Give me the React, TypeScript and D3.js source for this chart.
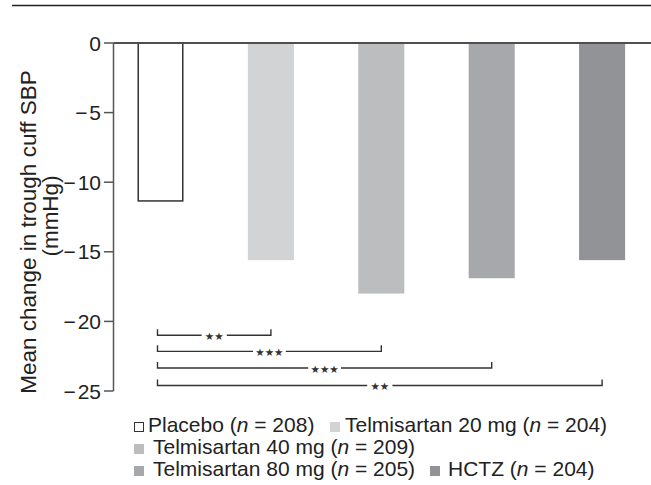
import React from 'react';
import * as d3 from 'd3';

const categories = ['Placebo', 'Telmisartan 20 mg', 'Telmisartan 40 mg', 'Telmisartan 80 mg', 'HCTZ'];
const values = [-11.4, -15.6, -18.0, -16.9, -15.6];
const sampleSizes = [208, 204, 209, 205, 204];
const barColors = ['#ffffff', '#d2d3d5', '#bcbdbf', '#a7a8ab', '#929396'];
const yTicks = [0, -5, -10, -15, -20, -25];
const comparisonTargets = [1, 2, 3, 4];
const comparisonLabels = ['**', '***', '***', '**'];
const comparisonLevels = [-21.0, -22.15, -23.35, -24.6];
const yTitle = ['Mean change in trough cuff SBP', '(mmHg)'];

const W = 651;
const H = 485;
const FONT = "'Liberation Sans', Arial, Helvetica, sans-serif";

export default function App() {
  const x = d3.scaleBand<string>().domain(categories).range([105.3, 657.3]).paddingInner(0.583).paddingOuter(0.2915);
  const y = d3.scaleLinear().domain([0, -25]).range([43, 391]);
  const cx = (i: number) => (x(categories[i]) as number) + x.bandwidth() / 2;
  const axisX = 113.5;

  // legend layout: rows of [index, squareX, textX]
  const legendRows: [number, number, number][][] = [
    [[0, 134, 148], [1, 330, 345]],
    [[2, 134, 153]],
    [[3, 134, 153], [4, 430, 448]],
  ];
  const legendY = [432, 454, 476];

  return (
    <svg width={W} height={H} style={{ position: 'absolute', left: 0, top: 0 }} fontFamily={FONT}>
      <rect width={W} height={H} fill="#fff" />
      <line x1={12} x2={W} y1={5.5} y2={5.5} stroke="#222" strokeWidth={1.6} />

      {/* bars */}
      {values.map((v, i) => {
        const x0 = x(categories[i]) as number;
        const top = y(0);
        const h = y(v) - top;
        return i === 0 ? (
          <rect key={i} x={x0 + 0.75} y={top} width={x.bandwidth() - 1.5} height={h - 0.75} fill="#fff" stroke="#333" strokeWidth={1.5} />
        ) : (
          <rect key={i} x={x0} y={top} width={x.bandwidth()} height={h} fill={barColors[i]} />
        );
      })}

      {/* zero line */}
      <line x1={axisX} x2={W} y1={y(0)} y2={y(0)} stroke="#4f4f4f" strokeWidth={2} />
      {/* y axis */}
      <line x1={axisX} x2={axisX} y1={y(0)} y2={y(-25)} stroke="#555" strokeWidth={1.5} />
      {yTicks.map((t) => (
        <g key={t}>
          <line x1={104} x2={axisX} y1={y(t)} y2={y(t)} stroke="#555" strokeWidth={1.5} />
          <text x={101} y={y(t)} textAnchor="end" dominantBaseline="central" fontSize={21} fill="#222">
            {t === 0 ? '0' : '\u2212\u200A' + Math.abs(t)}
          </text>
        </g>
      ))}

      {/* y title */}
      <text transform={`translate(28,232) rotate(-90)`} textAnchor="middle" dominantBaseline="central" fontSize={22.5} fill="#222">
        {yTitle[0]}
      </text>
      <text transform={`translate(50,216) rotate(-90)`} textAnchor="middle" dominantBaseline="central" fontSize={22.5} fill="#222">
        {yTitle[1]}
      </text>

      {/* comparison brackets */}
      {comparisonTargets.map((t, k) => {
        const x1 = cx(0) - 3;
        const x2 = cx(t);
        const yy = y(comparisonLevels[k]);
        const mid = (x1 + x2) / 2;
        const label = comparisonLabels[k];
        const half = (label.length * 7.6) / 2 + 5;
        return (
          <g key={k} stroke="#333" strokeWidth={1.4} fill="none">
            <path d={`M${x1},${yy - 6}V${yy}H${mid - half}`} />
            <path d={`M${mid + half},${yy}H${x2}V${yy - 6}`} />
            <text x={mid} y={yy + 0.5} textAnchor="middle" dominantBaseline="central" fontSize={10.5} fill="#333" stroke="none" fontFamily="'DejaVu Sans', sans-serif">
              {label.replace(/\*/g, '\u2605')}
            </text>
          </g>
        );
      })}

      {/* legend */}
      {legendRows.map((row, r) =>
        row.map(([i, sx, tx]) => (
          <g key={`${r}-${i}`}>
            <rect
              x={sx + (i === 0 ? 0.5 : 0)}
              y={legendY[r] - 10 + (i === 0 ? 0.5 : 0)}
              width={i === 0 ? 9 : 10}
              height={i === 0 ? 9 : 10}
              fill={barColors[i]}
              stroke={i === 0 ? '#333' : 'none'}
              strokeWidth={1}
            />
            <text x={tx} y={legendY[r]} fontSize={21} fill="#222" style={{ whiteSpace: 'pre' }}>
              {categories[i]} (<tspan fontStyle="italic">n</tspan>{' = '}{sampleSizes[i]})
            </text>
          </g>
        ))
      )}
    </svg>
  );
}
